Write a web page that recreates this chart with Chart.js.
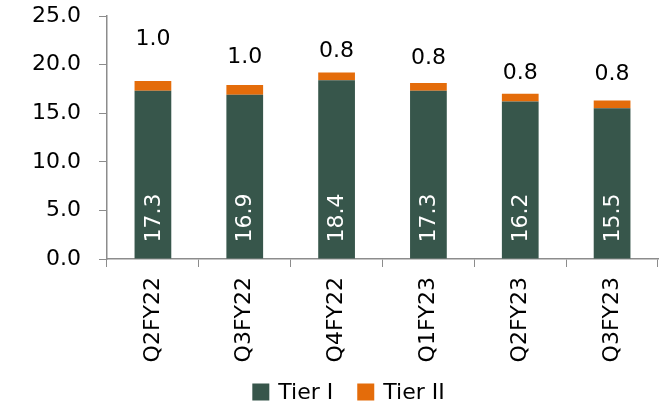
<!DOCTYPE html>
<html>
<head>
<meta charset="utf-8">
<script src="https://cdn.jsdelivr.net/npm/chart.js@4/dist/chart.umd.min.js"></script>
<style>
  html, body { margin: 0; padding: 0; background: #fff; }
  #wrap { width: 666px; height: 411px; }
</style>
</head>
<body>
<div id="wrap"><canvas id="c" width="666" height="411"></canvas></div>
<script>
// Capital adequacy by quarter (%)
const quarters = ['Q2FY22', 'Q3FY22', 'Q4FY22', 'Q1FY23', 'Q2FY23', 'Q3FY23'];
const tier1 = [17.3, 16.9, 18.4, 17.3, 16.2, 15.5];
const tier2 = [1.0, 1.0, 0.8, 0.8, 0.8, 0.8];
const yTicks = [0, 5, 10, 15, 20, 25];

const GREEN = '#37564B';
const ORANGE = '#E46C0A';
const AXIS = '#8C8C8C';
const FONT = "'DejaVu Sans', sans-serif";

// Value labels: Tier I written upward inside the bar, Tier II above the stack
const valueLabels = {
  id: 'valueLabels',
  afterDatasetsDraw(chart, args, opts) {
    const ctx = chart.ctx;
    const m1 = chart.getDatasetMeta(0);
    const m2 = chart.getDatasetMeta(1);
    ctx.save();
    ctx.font = opts.size + 'px ' + FONT;
    m1.data.forEach((bar, i) => {
      ctx.save();
      ctx.translate(bar.x, bar.base - opts.baseGap);
      ctx.rotate(-Math.PI / 2);
      ctx.textAlign = 'left';
      ctx.textBaseline = 'middle';
      ctx.fillStyle = '#ffffff';
      ctx.fillText(tier1[i].toFixed(1), 0, 1);
      ctx.restore();
    });
    m2.data.forEach((bar, i) => {
      ctx.textAlign = 'center';
      ctx.textBaseline = 'middle';
      ctx.fillStyle = '#000000';
      ctx.fillText(tier2[i].toFixed(1), bar.x, bar.y - opts.lift[i]);
    });
    ctx.restore();
  }
};

// Legend row under the category labels, built from the datasets
const legendRow = {
  id: 'legendRow',
  afterDraw(chart, args, opts) {
    const ctx = chart.ctx;
    ctx.save();
    ctx.font = opts.size + 'px ' + FONT;
    ctx.textBaseline = 'middle';
    ctx.textAlign = 'left';
    const items = chart.data.datasets.map(ds => ({
      text: ds.label, color: ds.backgroundColor, w: ctx.measureText(ds.label).width
    }));
    let total = 0;
    items.forEach((it, i) => {
      total += opts.box + opts.gap + it.w + (i < items.length - 1 ? opts.spacing : 0);
    });
    let x = opts.centerX - total / 2;
    const y = opts.centerY;
    items.forEach(it => {
      ctx.fillStyle = it.color;
      ctx.fillRect(x, y - opts.box / 2, opts.box, opts.box);
      x += opts.box + opts.gap;
      ctx.fillStyle = '#000000';
      ctx.fillText(it.text, x, y + 1);
      x += it.w + opts.spacing;
    });
    ctx.restore();
  }
};

new Chart(document.getElementById('c'), {
  type: 'bar',
  data: {
    labels: quarters,
    datasets: [
      { label: 'Tier I', data: tier1, backgroundColor: GREEN, barPercentage: 0.4, categoryPercentage: 1 },
      { label: 'Tier II', data: tier2, backgroundColor: ORANGE, barPercentage: 0.4, categoryPercentage: 1 }
    ]
  },
  options: {
    responsive: false,
    animation: false,
    layout: { padding: { top: 16, right: 8, left: 0, bottom: 42 } },
    scales: {
      x: {
        stacked: true,
        grid: { display: true, offset: true, drawOnChartArea: false, drawTicks: true, tickLength: 8, color: AXIS },
        border: { display: true, color: AXIS, width: 1.5 },
        ticks: { color: '#000', font: { family: FONT, size: 22 }, minRotation: 90, maxRotation: 90, padding: 10 },
        afterFit(s) { s.height = 110; s.paddingLeft = 0; s.paddingRight = 0; }
      },
      y: {
        stacked: true,
        min: 0,
        max: 25,
        afterBuildTicks(s) { s.ticks = yTicks.map(v => ({ value: v })); },
        grid: { display: true, drawOnChartArea: false, drawTicks: true, tickLength: 8, color: AXIS },
        border: { display: true, color: AXIS, width: 1.5 },
        ticks: { color: '#000', font: { family: FONT, size: 22 }, padding: 18, callback: v => Number(v).toFixed(1) },
        afterFit(s) { s.width = 107; s.paddingTop = 0; s.paddingBottom = 0; }
      }
    },
    plugins: {
      legend: { display: false },
      tooltip: { enabled: false },
      valueLabels: { size: 22, baseGap: 16, lift: [42, 28, 21, 25, 20, 26] },
      legendRow: { size: 22, box: 17, gap: 9, spacing: 24, centerX: 348.5, centerY: 392 }
    }
  },
  plugins: [valueLabels, legendRow]
});
</script>
</body>
</html>
